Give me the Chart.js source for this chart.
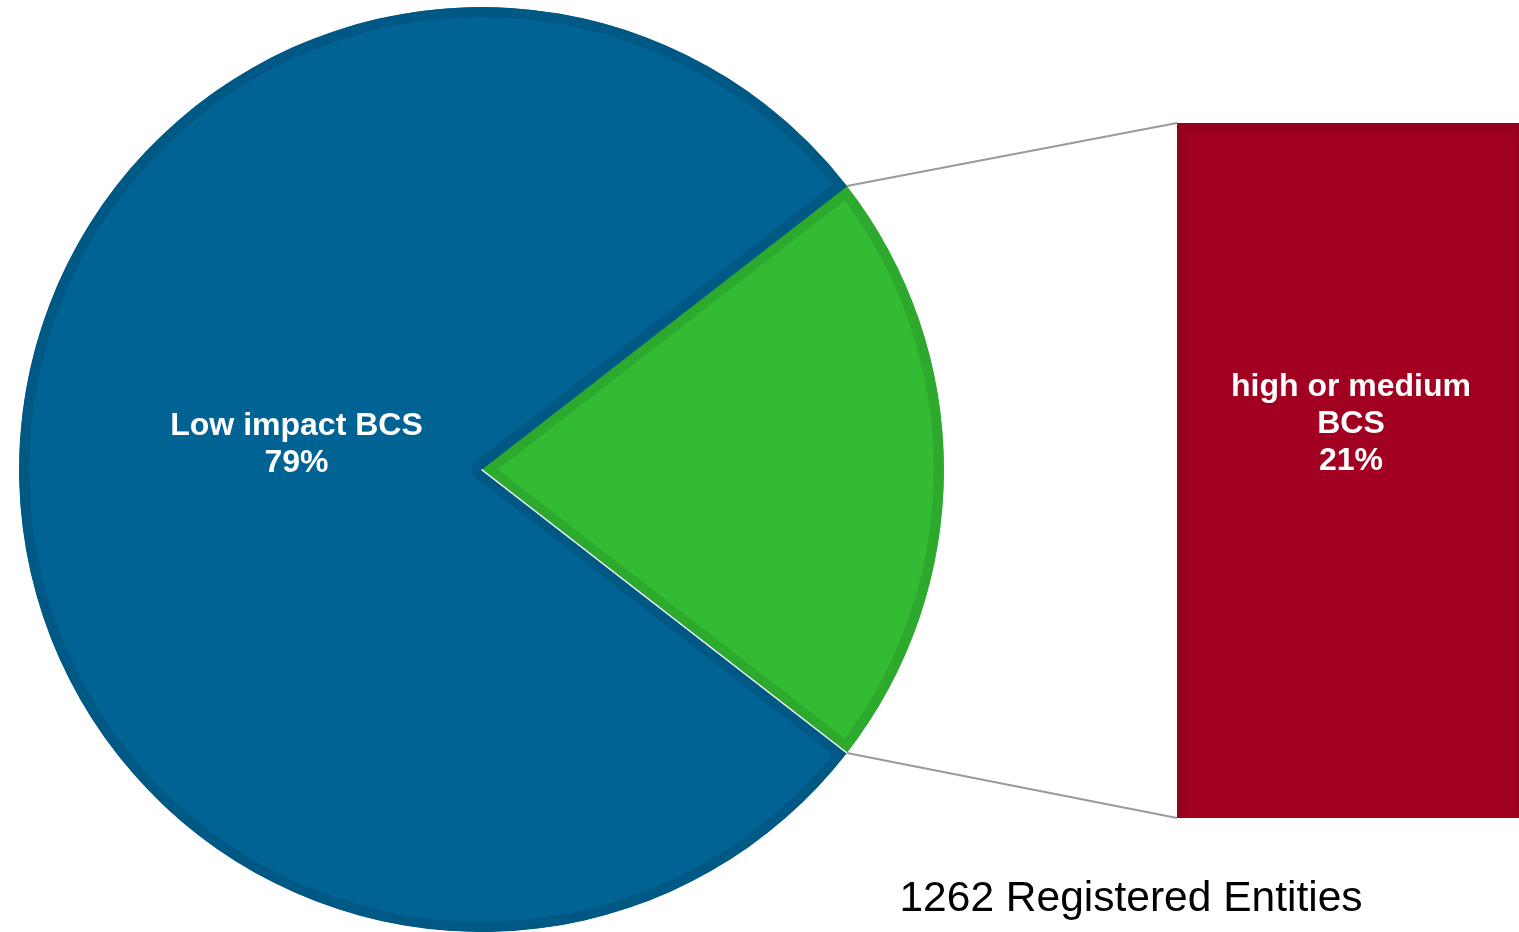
<!DOCTYPE html>
<html>
<head>
<meta charset="utf-8">
<script src="https://cdn.jsdelivr.net/npm/chart.js@4.4.1/dist/chart.umd.min.js"></script>
<style>
  html, body { margin: 0; padding: 0; background: #ffffff; overflow: hidden; width: 1519px; height: 932px; }
  #pieWrap { position: absolute; left: 0; top: 0; width: 1519px; height: 932px; }
  #barWrap { position: absolute; left: 1177px; top: 123px; width: 348px; height: 695px; }
</style>
</head>
<body>
<div id="barWrap"><canvas id="barChart"></canvas></div>
<div id="pieWrap"><canvas id="pieChart"></canvas></div>
<script>
// ---- data ----
const pieCategories = ['high or medium BCS', 'Low impact BCS'];
const pieShares = [21, 79];
const pieLabelLines = [['high or medium', 'BCS', '21%'], ['Low impact BCS', '79%']];
const barCategories = ['high or medium BCS'];
const barShares = [21];
const footnote = '1262 Registered Entities';

const FONT = "'Liberation Sans', Arial, sans-serif";

// ---- bar (pie-of-bar secondary) ----
const barLabelPlugin = {
  id: 'barLabel',
  afterDatasetsDraw(chart) {
    const el = chart.getDatasetMeta(0).data[0];
    const ctx = chart.ctx;
    ctx.save();
    ctx.fillStyle = '#ffffff';
    ctx.font = 'bold 32px ' + FONT;
    ctx.textAlign = 'center';
    ctx.textBaseline = 'middle';
    const lines = pieLabelLines[0];
    const cy = (el.y + el.base) / 2 - 46;
    const lh = 37;
    lines.forEach((t, i) => ctx.fillText(t, el.x, cy + (i - (lines.length - 1) / 2) * lh));
    ctx.restore();
  }
};

const barChart = new Chart(document.getElementById('barChart'), {
  type: 'bar',
  data: {
    labels: barCategories,
    datasets: [{
      data: barShares,
      backgroundColor: '#a20021',
      borderColor: '#96001d',
      borderWidth: 10,
      barPercentage: 1,
      categoryPercentage: 1
    }]
  },
  options: {
    responsive: true,
    maintainAspectRatio: false,
    animation: false,
    events: [],
    layout: { padding: 0 },
    plugins: { legend: { display: false }, tooltip: { enabled: false } },
    scales: {
      x: { display: false, offset: true },
      y: { display: false, min: 0, max: 21 }
    }
  },
  plugins: [barLabelPlugin]
});

// ---- pie ----
const piePlugin = {
  id: 'pieExtras',
  afterDatasetsDraw(chart) {
    const ctx = chart.ctx;
    const arcs = chart.getDatasetMeta(0).data;
    const g = arcs[0];
    const b = arcs[1];
    // white separator along lower edge of green slice
    ctx.save();
    ctx.strokeStyle = '#ffffff';
    ctx.lineWidth = 1.5;
    ctx.beginPath();
    ctx.moveTo(g.x, g.y);
    ctx.lineTo(g.x + Math.cos(g.endAngle) * g.outerRadius, g.y + Math.sin(g.endAngle) * g.outerRadius);
    ctx.stroke();
    ctx.restore();

    // connector lines to the bar
    const bel = barChart.getDatasetMeta(0).data[0];
    const wrap = document.getElementById('barWrap');
    const ox = wrap.offsetLeft, oy = wrap.offsetTop;
    const barLeft = ox + bel.x - bel.width / 2;
    const barTop = oy + Math.min(bel.y, bel.base);
    const barBottom = oy + Math.max(bel.y, bel.base);
    const p1 = [g.x + Math.cos(g.startAngle) * g.outerRadius, g.y + Math.sin(g.startAngle) * g.outerRadius];
    const p2 = [g.x + Math.cos(g.endAngle) * g.outerRadius, g.y + Math.sin(g.endAngle) * g.outerRadius];
    ctx.save();
    ctx.strokeStyle = '#9a9a9a';
    ctx.lineWidth = 2;
    ctx.beginPath();
    ctx.moveTo(p1[0], p1[1]); ctx.lineTo(barLeft, barTop);
    ctx.moveTo(p2[0], p2[1]); ctx.lineTo(barLeft, barBottom);
    ctx.stroke();
    ctx.restore();

    // label of low impact slice
    const mid = (b.startAngle + b.endAngle) / 2;
    const lx = b.x + Math.cos(mid) * b.outerRadius * 0.4;
    const ly = b.y + Math.sin(mid) * b.outerRadius * 0.4 - 25;
    ctx.save();
    ctx.fillStyle = '#ffffff';
    ctx.font = 'bold 32px ' + FONT;
    ctx.textAlign = 'center';
    ctx.textBaseline = 'middle';
    const lines = pieLabelLines[1];
    lines.forEach((t, i) => ctx.fillText(t, lx, ly + (i - (lines.length - 1) / 2) * 37));
    ctx.restore();

    // footnote
    ctx.save();
    ctx.fillStyle = '#000000';
    ctx.font = '42.5px ' + FONT;
    ctx.textAlign = 'center';
    ctx.textBaseline = 'alphabetic';
    ctx.fillText(footnote, 1131, 911);
    ctx.restore();
  }
};

new Chart(document.getElementById('pieChart'), {
  type: 'pie',
  data: {
    labels: pieCategories,
    datasets: [{
      data: pieShares,
      backgroundColor: ['#33bb33', '#006394'],
      borderColor: ['#2daa2d', '#005885'],
      borderWidth: 10,
      borderAlign: 'inner',
      hoverOffset: 0,
      offset: 0
    }]
  },
  options: {
    responsive: true,
    maintainAspectRatio: false,
    animation: false,
    events: [],
    rotation: 90 - 21 * 3.6 / 2,
    layout: { padding: { left: 18, top: 7, right: 574, bottom: -2 } },
    plugins: { legend: { display: false }, tooltip: { enabled: false } }
  },
  plugins: [piePlugin]
});
</script>
</body>
</html>
